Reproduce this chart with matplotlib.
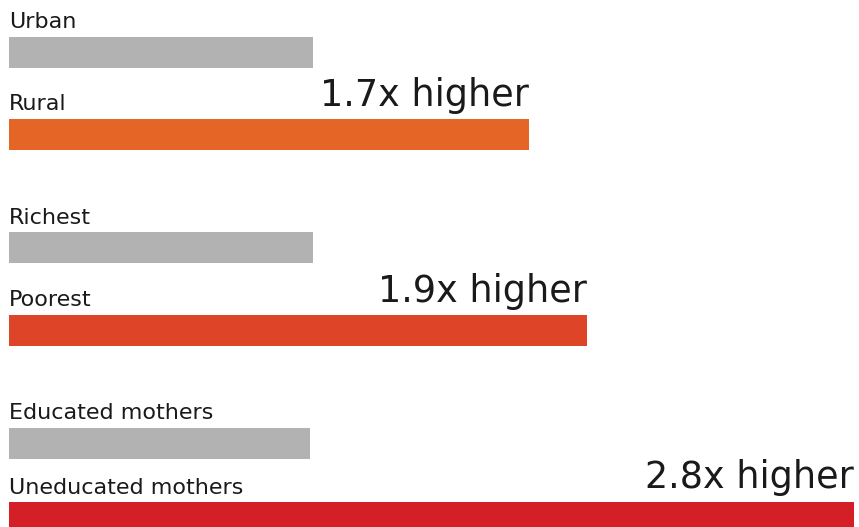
import matplotlib
matplotlib.use("Agg")
import matplotlib.pyplot as plt

# data: bar lengths relative to the better-off group
labels = ["Urban", "Rural", "Richest", "Poorest", "Educated mothers", "Uneducated mothers"]
values = [1.0, 1.71, 1.0, 1.9, 0.99, 2.78]
ratio_text = ["", "1.7x higher", "", "1.9x higher", "", "2.8x higher"]
colors = ["#b2b2b2", "#e46526", "#b2b2b2", "#de4427", "#b2b2b2", "#d51f27"]

# layout (pixel-like units, y downwards)
row_y = [52, 134.5, 247.5, 330.5, 443, 517.5]
bar_h = 31
px_per_unit = 304.0

plt.rcParams['font.family'] = ['DejaVu Sans']

fig = plt.figure(figsize=(8.59, 5.27), dpi=100)
ax = fig.add_axes([0, 0, 1, 1])
ax.set_xlim(-9 / px_per_unit, 850 / px_per_unit)
ax.set_ylim(527, 0)
ax.axis("off")

ax.barh(row_y, values, height=bar_h, color=colors, left=0)

for y, lab, v, txt in zip(row_y, labels, values, ratio_text):
    top = y - bar_h / 2
    ax.text(0, top - 8.5, lab, fontsize=16, color="#1a1a1a",
            ha="left", va="baseline")
    if txt:
        ax.text(v, top - 13.5, txt, fontsize=26.3, color="#1a1a1a",
                ha="right", va="baseline")

fig.savefig("out.png", dpi=100)
